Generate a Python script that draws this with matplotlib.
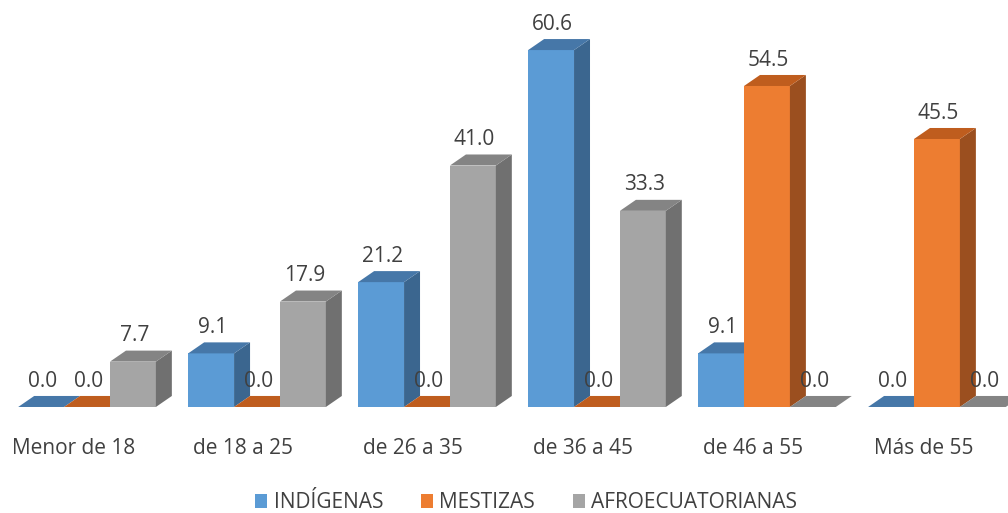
import numpy as np
import matplotlib.pyplot as plt
from matplotlib.patches import Polygon, Rectangle

groups = ['Menor de 18', 'de 18 a 25', 'de 26 a 35', 'de 36 a 45', 'de 46 a 55', 'Más de 55']
series = ['INDÍGENAS', 'MESTIZAS', 'AFROECUATORIANAS']
indigenas = [0.0, 9.1, 21.2, 60.6, 9.1, 0.0]
mestizas = [0.0, 0.0, 0.0, 0.0, 54.5, 45.5]
afro = [7.7, 17.9, 41.0, 33.3, 0.0, 0.0]

# front, top, side shades for each series
shades = [
    ('#5b9bd5', '#4677a8', '#3b668f'),
    ('#ed7d31', '#bf5d1e', '#9b4f1f'),
    ('#a5a5a5', '#848484', '#707070'),
]
txt = '#404040'
plt.rcParams['font.family'] = ['Open Sans', 'DejaVu Sans']

fig = plt.figure(figsize=(10.08, 5.13), dpi=100)
ax = fig.add_axes([0, 0, 1, 1])
ax.set_xlim(-0.512, 5.418)
ax.set_ylim(-18.0, 69.1)
ax.axis('off')

w = 0.27      # bar width
dx = 0.094    # depth offset in x
dy = 1.87     # depth offset in y

z = 1
for i in range(len(groups)):
    for j, vals in enumerate([indigenas, mestizas, afro]):
        v = vals[i]
        front, top, side = shades[j]
        x0 = i - 1.5 * w + j * w
        x1 = x0 + w
        if v > 0:
            ax.add_patch(Polygon([(x0, 0), (x1, 0), (x1, v), (x0, v)],
                                 closed=True, fc=front, ec='none', zorder=z))
            ax.add_patch(Polygon([(x1, 0), (x1 + dx, dy), (x1 + dx, v + dy), (x1, v)],
                                 closed=True, fc=side, ec='none', zorder=z))
        ax.add_patch(Polygon([(x0, v), (x1, v), (x1 + dx, v + dy), (x0 + dx, v + dy)],
                             closed=True, fc=top, ec='none', zorder=z))
        ax.text(x0 + w / 2 + 0.01, v + 4.4, f'{v:.1f}', ha='center', va='center',
                fontsize=15, color=txt, zorder=100)
        z += 1
    ax.text(i - 0.08, -7.0, groups[i], ha='center', va='center', fontsize=15, color=txt)

handles = [Rectangle((0, 0), 1, 1, fc=s[0], ec='none') for s in shades]
fig.legend(handles, series, loc='center', bbox_to_anchor=(0.522, 0.02), ncol=3,
           frameon=False, fontsize=15, labelcolor=txt, handlelength=0.6,
           handleheight=0.6, handletextpad=0.3, columnspacing=1.8)

fig.savefig('out.png', dpi=100)
